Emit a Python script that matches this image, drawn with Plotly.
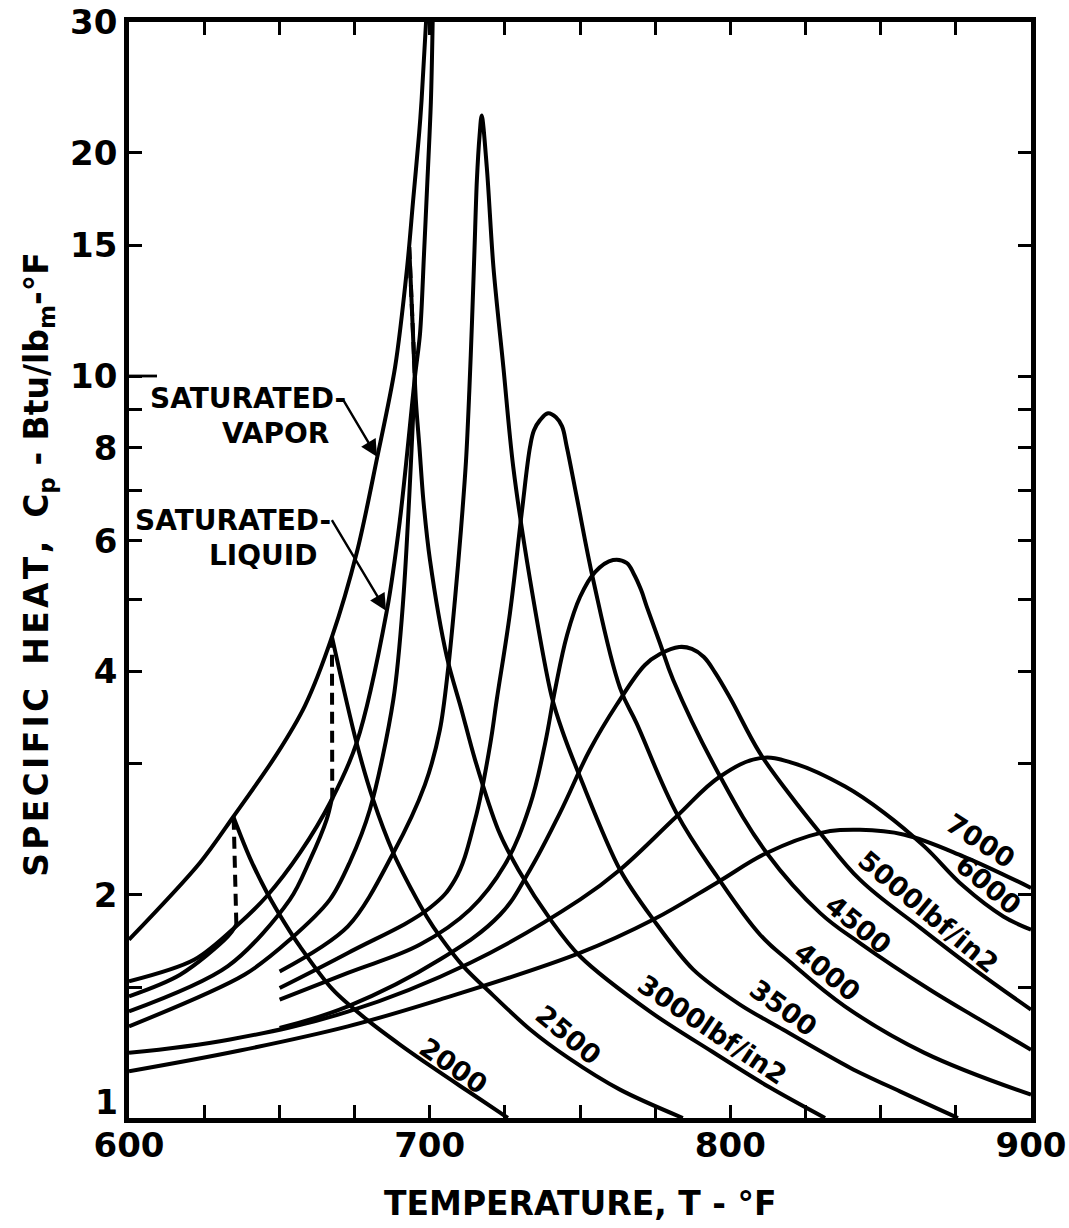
import plotly.graph_objects as go

# ---------------- data (T in degF, cp in Btu/lbm-F) ----------------
sv_T  = [600, 623.6, 634.7, 649.2, 658.5, 667.5, 675.8, 682.5, 688.5, 692.5, 694.5, 696.5, 697.3, 698.8]
sv_cp = [1.739, 2.208, 2.547, 3.095, 3.593, 4.45, 5.79, 7.75, 10.28, 14.01, 17.25, 21.23, 23.51, 30.0]

sl_T  = [600, 621.8, 636.2, 645.8, 656.9, 667.4, 675.7, 685.7, 690.1, 695.1, 696.8, 698.1, 699.1, 700.4, 701.0]
sl_cp = [1.528, 1.635, 1.822, 1.99, 2.278, 2.685, 3.203, 4.813, 6.394, 9.97, 11.42, 14.54, 17.79, 23.41, 30.0]

p2000_liq_T  = [600, 617, 632.9, 635.7]
p2000_liq_cp = [1.459, 1.56, 1.757, 1.822]
p2000_dash_T  = [635.7, 634.8]
p2000_dash_cp = [1.822, 2.547]
p2000_vap_T  = [634.7, 640.2, 645.9, 651.9, 656.9, 667.8, 679.1, 690.1, 701.1, 712.4, 723.4, 726.0]
p2000_vap_cp = [2.547, 2.242, 2.012, 1.828, 1.702, 1.489, 1.357, 1.256, 1.169, 1.089, 1.017, 1.0]

p2500_liq_T  = [600, 632.9, 653.5, 660.2, 665.7, 667.4]
p2500_liq_cp = [1.392, 1.602, 1.969, 2.228, 2.523, 2.685]
p2500_dash_T  = [667.6, 667.5]
p2500_dash_cp = [2.685, 4.45]
p2500_vap_T  = [667.5, 675.7, 681.2, 687.9, 694.0, 699.0, 703.4, 711.2, 721.2, 733.4, 746.0, 763.3, 784.2]
p2500_vap_cp = [4.45, 3.201, 2.685, 2.276, 2.031, 1.869, 1.757, 1.601, 1.462, 1.316, 1.206, 1.092, 1.0]

p3000_liq_T  = [600, 638.5, 653.5, 666.8, 673.5, 680.1, 687.9, 691.2, 695.1]
p3000_liq_cp = [1.329, 1.561, 1.739, 1.969, 2.215, 2.603, 3.66, 4.991, 9.97]
p3000_dash_T  = [693.2, 695.1]
p3000_dash_cp = [14.92, 9.97]
p3000_vap_T  = [693.2, 694.4, 695.4, 696.6, 697.9, 700.1, 705.7, 710.6, 715.1, 722.8, 729.5, 740.6,
                750.0, 773.3, 793.9, 813.2, 831.5]
p3000_vap_cp = [14.92, 11.53, 9.277, 8.02, 6.804, 5.649, 4.186, 3.548, 3.039, 2.445, 2.161, 1.841,
                1.652, 1.391, 1.229, 1.099, 1.0]

p3500_T  = [650.1, 672.8, 687.9, 698.4, 703.4, 706.1, 708.4, 710.4, 712.1, 713.2, 714.1, 714.9,
            715.7, 716.6, 717.3, 719.0, 721.2, 724.5, 727.8, 733.4, 740.6, 744.4, 750.0, 763.3,
            774.4, 787.7, 803.2, 817.5, 839.8, 856.4, 875.7]
p3500_cp = [1.576, 1.813, 2.276, 2.812, 3.336, 4.018, 4.991, 6.2, 7.70, 9.57, 11.89, 14.77,
            18.35, 21.1, 22.45, 19.12, 14.03, 10.29, 7.54, 5.31, 3.695, 3.30, 2.883, 2.161,
            1.851, 1.585, 1.422, 1.316, 1.169, 1.086, 1.0]

p4000_T  = [650.1, 672.8, 700.1, 708.4, 715.1, 720.1, 722.3, 726.7, 730.6, 733.4, 734.7, 736.7,
            739.4, 742.0, 744.0, 745.6, 748.9, 754.4, 763.3, 768.8, 782.1, 795.4, 809.9, 819.8,
            838.1, 864.4, 900]
p4000_cp = [1.497, 1.669, 1.92, 2.095, 2.523, 3.184, 3.66, 4.79, 6.53, 8.03, 8.45, 8.72,
            8.91, 8.80, 8.56, 8.03, 6.875, 5.31, 3.80, 3.405, 2.576, 2.121, 1.766, 1.624,
            1.414, 1.225, 1.075]

p4500_T  = [650.1, 672.8, 696.8, 713.4, 725.0, 733.4, 738.3, 741.7, 745.7, 750.0, 755.0, 761.0,
            765.5, 767.9, 770.3, 772.2, 776.6, 781.0, 796.6, 812.1, 829.8, 843.1, 866.4, 883.0, 900]
p4500_cp = [1.444, 1.569, 1.713, 1.909, 2.194, 2.643, 3.184, 3.776, 4.477, 5.037, 5.443, 5.649,
            5.60, 5.41, 5.15, 4.89, 4.364, 3.894, 2.886, 2.276, 1.89, 1.721, 1.489, 1.357, 1.236]

p5000_T  = [650.1, 672.8, 703.4, 723.4, 733.4, 743.3, 753.3, 762.2, 771.6, 776.6, 783.0, 787.2,
            791.2, 795.0, 799.9, 809.8, 819.8, 829.8, 843.1, 863.1, 881.3, 900]
p5000_cp = [1.322, 1.414, 1.635, 1.879, 2.161, 2.576, 3.135, 3.605, 4.079, 4.22, 4.313, 4.288,
            4.182, 3.98, 3.684, 3.105, 2.727, 2.424, 2.095, 1.805, 1.585, 1.4]

p6000_T  = [600, 633.6, 672.8, 713.4, 750.0, 763.3, 782.1, 796.6, 809.9, 820.9, 838.2, 851.3,
            864.5, 877.6, 890.8, 900]
p6000_cp = [1.224, 1.276, 1.391, 1.618, 1.969, 2.161, 2.549, 2.886, 3.055, 3.008, 2.797, 2.576,
            2.323, 2.052, 1.869, 1.794]

p7000_T  = [600, 636.9, 672.8, 703.4, 750.0, 774.4, 795.4, 812.1, 829.8, 843.1, 857.9, 877.6, 900]
p7000_cp = [1.156, 1.233, 1.329, 1.444, 1.669, 1.851, 2.074, 2.276, 2.421, 2.446, 2.409, 2.251, 2.042]

x_tickvals = [600, 625, 650, 675, 700, 725, 750, 775, 800, 825, 850, 875, 900]
x_ticktext = ["600", "", "", "", "700", "", "", "", "800", "", "", "", "900"]
y_tickvals = [1, 1.5, 2, 3, 4, 5, 6, 7, 8, 9, 10, 15, 20, 30]
y_ticktext = ["", "", "2", "", "4", "", "6", "", "8", "", "10", "15", "20", "30"]
y_bottom_label = "1"

curve_labels = ["2000", "2500", "3000lbf/in2", "3500", "4000", "4500", "5000lbf/in2", "6000", "7000"]

# ---------------- figure ----------------
W, H = 1069, 1228
L, R, T_, B = 129, 1031, 22, 1118.5
FONT = "DejaVu Sans"
LW = 4.0
DASH = "12px,7px"

def pxx(x):
    return (x - L) / (R - L)

def pyy(y):
    return (B - y) / (B - T_)

fig = go.Figure()

def add(xs, ys, dash="solid", shape="spline", sm=0.9):
    fig.add_trace(go.Scatter(x=xs, y=ys, mode="lines",
                             line=dict(color="black", width=LW, dash=dash, shape=shape, smoothing=sm),
                             showlegend=False, hoverinfo="skip"))

add(sv_T, sv_cp)
add(sl_T, sl_cp)
add(p2000_liq_T, p2000_liq_cp)
add(p2000_dash_T, p2000_dash_cp, dash=DASH, shape="linear")
add(p2000_vap_T, p2000_vap_cp)
add(p2500_liq_T, p2500_liq_cp)
add(p2500_dash_T, p2500_dash_cp, dash=DASH, shape="linear")
add(p2500_vap_T, p2500_vap_cp)
add(p3000_liq_T, p3000_liq_cp)
add(p3000_dash_T, p3000_dash_cp, dash=DASH, shape="linear")
add(p3000_vap_T, p3000_vap_cp)
add(p3500_T, p3500_cp)
add(p4000_T, p4000_cp, sm=1.1)
add(p4500_T, p4500_cp, sm=1.1)
add(p5000_T, p5000_cp, sm=1.1)
add(p6000_T, p6000_cp, sm=1.1)
add(p7000_T, p7000_cp, sm=1.1)

axis_common = dict(showgrid=False, zeroline=False, showline=True, linecolor="black", linewidth=4.5,
                   ticks="inside", tickcolor="black", tickwidth=2.8, mirror="ticks", automargin=False,
                   tickfont=dict(family=FONT, size=34, color="black", weight="bold"))

fig.update_xaxes(range=[600, 900], tickvals=x_tickvals, ticktext=x_ticktext, ticklen=13,
                 ticklabelstandoff=-7, **axis_common)
fig.update_yaxes(type="log", range=[0, 1.4771], tickvals=y_tickvals, ticktext=y_ticktext, ticklen=13,
                 **axis_common)

# longer tick at cp = 10 on the left axis
fig.add_shape(type="line", xref="paper", yref="y", x0=0, x1=(157 - L) / (R - L), y0=10, y1=10,
              line=dict(color="black", width=2.8))

hs = "\u200a"
def spaced(s):
    return hs.join(list(s))

ytitle = (spaced("SPECIFIC") + "  " + spaced("HEAT,") + "  C<sub>p</sub> - Btu/lb<sub>m</sub>-°F")

def A(text, x, y, size, xanchor="center", angle=0):
    return dict(text=text, x=pxx(x), y=pyy(y), xref="paper", yref="paper", showarrow=False,
                xanchor=xanchor, yanchor="middle", textangle=angle,
                font=dict(family=FONT, size=size, color="black", weight="bold"))

ann = []
ann.append(A("TEMPERATURE, T - °F", 580, 1204, 33))
ann.append(A(ytitle, 39, 565, 33, angle=-90))
ann.append(A(y_bottom_label, 120, 1103, 33, xanchor="right"))
ann.append(A("SATURATED-", 148, 399, 28, xanchor="left"))
ann.append(A("VAPOR", 331, 434, 28, xanchor="right"))
ann.append(A("SATURATED-", 133, 521, 28, xanchor="left"))
ann.append(A("LIQUID", 319, 556, 28, xanchor="right"))
# arrows
ann.append(dict(text="", x=pxx(377), y=pyy(457), xref="paper", yref="paper", ax=-35, ay=-59,
                showarrow=True, arrowhead=2, arrowsize=1.4, arrowwidth=2.4, arrowcolor="black"))
ann.append(dict(text="", x=pxx(386), y=pyy(611), xref="paper", yref="paper", ax=-55, ay=-92,
                showarrow=True, arrowhead=2, arrowsize=1.4, arrowwidth=2.4, arrowcolor="black"))

# curve labels (centre px, angle)
lab_pos = [(453, 1066, 35), (568, 1035, 40), (712, 1030, 34), (783, 1008, 36), (827, 972, 39),
           (858, 925, 39), (928, 912, 40), (988, 885, 40), (980, 841, 33)]
for txt, (x, y, a) in zip(curve_labels, lab_pos):
    ann.append(A(txt, x, y, 27, angle=a))

fig.update_layout(width=W, height=H, margin=dict(l=L, r=W - R, t=T_, b=H - B),
                  paper_bgcolor="white", plot_bgcolor="white", annotations=ann)

fig.write_html("out.html")
